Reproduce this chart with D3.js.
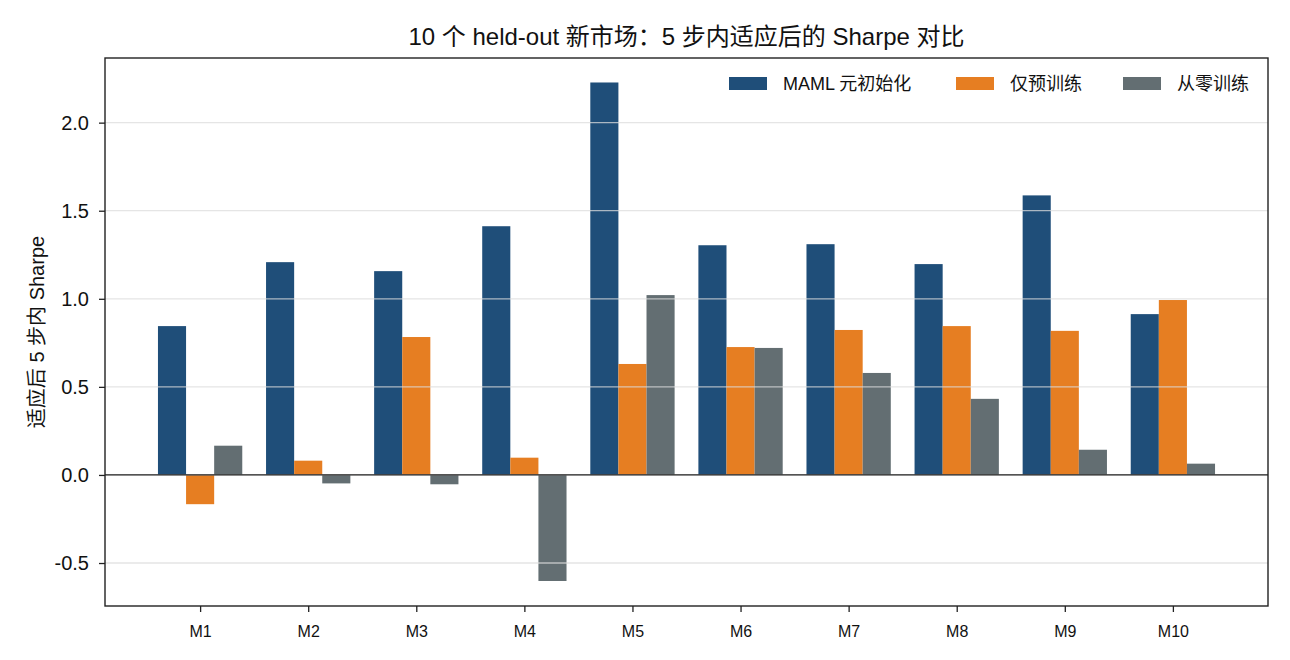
<!DOCTYPE html>
<html>
<head>
<meta charset="utf-8">
<script src="https://cdn.jsdelivr.net/npm/d3@7"></script>
<style>
  body { margin: 0; background: #fff; }
  svg text { font-family: "Liberation Sans", Arial, "Noto Sans CJK SC", sans-serif; fill: #111; }
</style>
</head>
<body>
<svg id="chart" width="1290" height="660"></svg>
<script>
const markets = ["M1", "M2", "M3", "M4", "M5", "M6", "M7", "M8", "M9", "M10"];
const mamlValues = [0.845, 1.208, 1.157, 1.412, 2.228, 1.304, 1.310, 1.197, 1.587, 0.913];
const pretrainValues = [-0.166, 0.081, 0.783, 0.098, 0.630, 0.726, 0.823, 0.845, 0.818, 0.993];
const scratchValues = [0.166, -0.048, -0.053, -0.602, 1.021, 0.721, 0.579, 0.432, 0.143, 0.064];
const seriesNames = ["MAML 元初始化", "仅预训练", "从零训练"];
const seriesColors = ["#1f4e79", "#e67e22", "#636e72"];
const yTicks = [-0.5, 0.0, 0.5, 1.0, 1.5, 2.0];

const svg = d3.select("#chart");
const margin = { left: 105, right: 22, top: 58, bottom: 54 };
const width = 1290 - margin.left - margin.right;
const height = 660 - margin.top - margin.bottom;
const barWidth = 0.26;

const x = d3.scaleLinear().domain([-0.88, 9.88]).range([0, width]);
const y = d3.scaleLinear().domain([-0.744, 2.367]).range([height, 0]);

const g = svg.append("g").attr("transform", `translate(${margin.left},${margin.top})`);

const series = [mamlValues, pretrainValues, scratchValues];

// bars, grouped around each market index
series.forEach((vals, s) => {
    g.selectAll(".bar-" + s)
        .data(vals)
        .enter()
        .append("rect")
        .attr("class", "bar-" + s)
        .attr("x", (d, i) => x(i + (s - 1) * barWidth - barWidth / 2))
        .attr("width", x(barWidth) - x(0))
        .attr("y", d => y(Math.max(0, d)))
        .attr("height", d => Math.abs(y(d) - y(0)))
        .attr("fill", seriesColors[s]);
});

// grid sits on top of the bars
g.selectAll(".grid")
    .data(yTicks)
    .enter()
    .append("line")
    .attr("class", "grid")
    .attr("x1", 0)
    .attr("x2", width)
    .attr("y1", d => y(d))
    .attr("y2", d => y(d))
    .attr("stroke", "#dcdcdc")
    .attr("stroke-opacity", 0.75)
    .attr("stroke-width", 1.3);

g.append("line")
    .attr("x1", 0)
    .attr("x2", width)
    .attr("y1", y(0))
    .attr("y2", y(0))
    .attr("stroke", "#222")
    .attr("stroke-width", 1.3);

const yAxis = g.append("g")
    .call(d3.axisLeft(y).tickValues(yTicks).tickFormat(d => d.toFixed(1)).tickSize(6).tickPadding(10));
yAxis.select(".domain").remove();
yAxis.selectAll("line").attr("stroke", "#222").attr("stroke-width", 1.3);
yAxis.selectAll("text").style("font-size", "20px").attr("fill", "#111");

const xAxis = g.append("g")
    .attr("transform", `translate(0,${height})`)
    .call(d3.axisBottom(x).tickValues(d3.range(markets.length)).tickFormat(i => markets[i]).tickSize(6).tickPadding(14));
xAxis.select(".domain").remove();
xAxis.selectAll("line").attr("stroke", "#222").attr("stroke-width", 1.3);
xAxis.selectAll("text").style("font-size", "16px").attr("fill", "#111");

g.append("rect")
    .attr("x", 0)
    .attr("y", 0)
    .attr("width", width)
    .attr("height", height)
    .attr("fill", "none")
    .attr("stroke", "#222")
    .attr("stroke-width", 1.4);

svg.append("text")
    .attr("x", margin.left + width / 2)
    .attr("y", 45)
    .attr("text-anchor", "middle")
    .style("font-size", "24px")
    .text("10 个 held-out 新市场：5 步内适应后的 Sharpe 对比");

svg.append("text")
    .attr("transform", `translate(44,${margin.top + height / 2}) rotate(-90)`)
    .attr("text-anchor", "middle")
    .style("font-size", "20px")
    .text("适应后 5 步内 Sharpe");

// legend, one row top right
const legendX = [729, 956, 1123];
const legend = svg.append("g").attr("class", "legend");
seriesNames.forEach((name, i) => {
    legend.append("rect")
        .attr("x", legendX[i])
        .attr("y", 77)
        .attr("width", 38)
        .attr("height", 13)
        .attr("fill", seriesColors[i]);
    legend.append("text")
        .attr("x", legendX[i] + 54)
        .attr("y", 90)
        .style("font-size", "18px")
        .text(name);
});
</script>
</body>
</html>
